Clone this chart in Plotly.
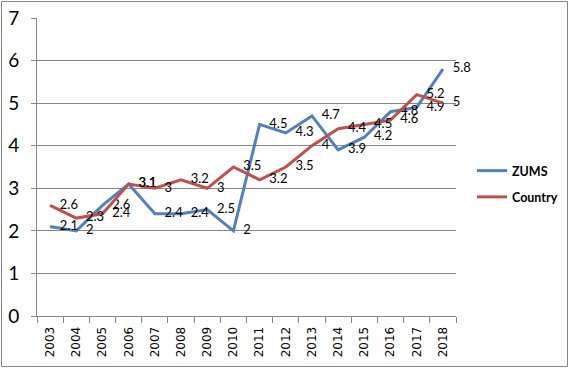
import plotly.graph_objects as go

years = ["2003", "2004", "2005", "2006", "2007", "2008", "2009", "2010",
         "2011", "2012", "2013", "2014", "2015", "2016", "2017", "2018"]
zums = [2.1, 2, 2.6, 3.1, 2.4, 2.4, 2.5, 2, 4.5, 4.3, 4.7, 3.9, 4.2, 4.8, 4.9, 5.8]
country = [2.6, 2.3, 2.4, 3.1, 3, 3.2, 3, 3.5, 3.2, 3.5, 4, 4.4, 4.5, 4.6, 5.2, 5]
y_ticks = [0, 1, 2, 3, 4, 5, 6, 7]

BLUE = "#4F81BD"
RED = "#C0504D"
GRID = "#868686"
LABEL_FONT = dict(family="Lato", size=13, color="#000000")

fig = go.Figure()
fig.add_trace(go.Scatter(
    x=years, y=zums, name="ZUMS", mode="lines+markers+text",
    line=dict(color=BLUE, width=3),
    marker=dict(size=14, color="rgba(0,0,0,0)"),
    text=[str(v) for v in zums], textposition="middle right",
    textfont=LABEL_FONT, legendgroup="a", cliponaxis=False,
))
fig.add_trace(go.Scatter(
    x=years, y=country, name="Country", mode="lines+markers+text",
    line=dict(color=RED, width=3),
    marker=dict(size=14, color="rgba(0,0,0,0)"),
    text=[str(v) for v in country], textposition="middle right",
    textfont=LABEL_FONT, legendgroup="b", cliponaxis=False,
))

L, R, T, B = 37, 113, 18, 53
W, H = 569, 369
pw, ph = W - L - R, H - T - B

def px_x(p):
    return (p - L) / pw

def px_y(p):
    return (H - B - p) / ph

fig.add_shape(type="rect", xref="paper", yref="paper",
              x0=px_x(1.5), x1=px_x(567.5), y0=px_y(366.5), y1=px_y(1.5),
              line=dict(color=GRID, width=1), fillcolor="rgba(0,0,0,0)", layer="above")

fig.update_layout(
    width=W, height=H,
    margin=dict(l=L, r=R, t=T, b=B, autoexpand=False),
    paper_bgcolor="white", plot_bgcolor="white",
    showlegend=True,
    legend=dict(
        x=px_x(472), y=px_y(156), xanchor="left", yanchor="top",
        font=dict(family="Lato", size=12.5, color="#000000", weight="bold"),
        tracegroupgap=7, traceorder="grouped", itemwidth=30,
        bgcolor="rgba(0,0,0,0)",
    ),
    xaxis=dict(
        type="category", tickson="boundaries", ticks="outside", ticklen=6,
        tickcolor=GRID, showline=True, linecolor=GRID, linewidth=1,
        showgrid=False, tickangle=-90,
        tickfont=dict(family="DejaVu Sans", size=12, color="#000000"),
        ticklabelstandoff=5,
        range=[-0.5, len(years) - 0.5],
    ),
    yaxis=dict(
        range=[0, 7], tickvals=y_ticks, ticks="outside", ticklen=5,
        tickcolor=GRID, showline=True, linecolor=GRID, linewidth=1,
        showgrid=True, gridcolor=GRID, gridwidth=1, zeroline=False,
        tickfont=dict(family="Lato", size=19, color="#000000"),
        ticklabelstandoff=8,
    ),
)

fig.write_html("out.html", config={"displayModeBar": False},
               post_script="document.body.style.margin='0';")
